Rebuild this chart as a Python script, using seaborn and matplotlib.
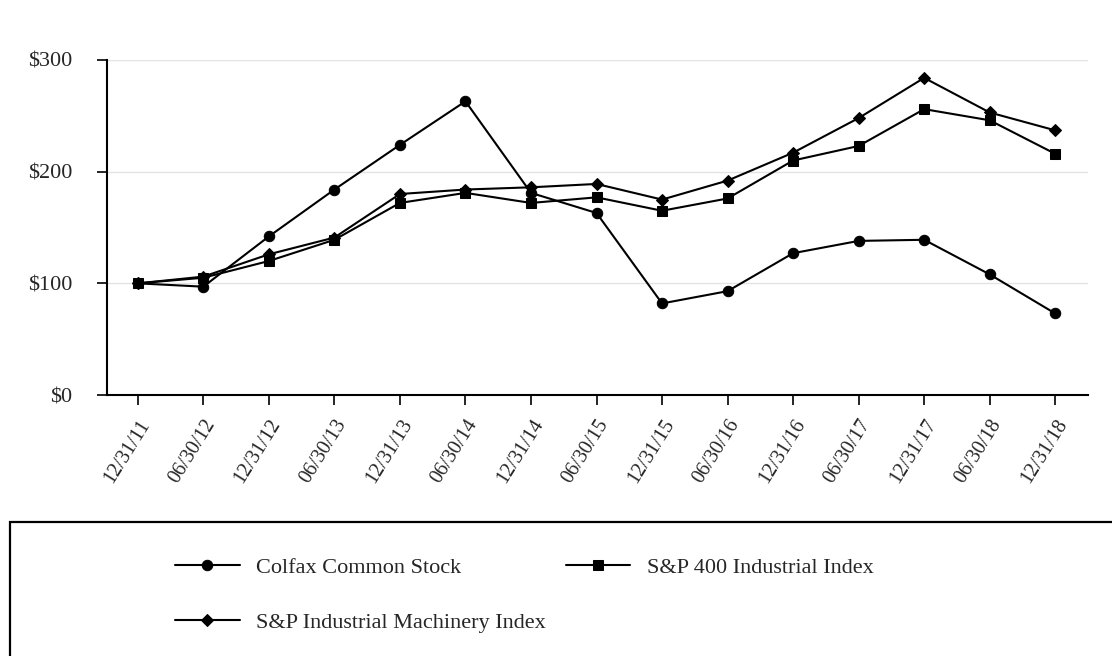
import pandas as pd
import matplotlib.pyplot as plt
import seaborn as sns
from matplotlib.patches import Rectangle

# values
dates = ["12/31/11", "06/30/12", "12/31/12", "06/30/13", "12/31/13", "06/30/14", "12/31/14",
         "06/30/15", "12/31/15", "06/30/16", "12/31/16", "06/30/17", "12/31/17", "06/30/18", "12/31/18"]
colfax = [100, 97, 142, 184, 224, 263, 181, 163, 82, 93, 127, 138, 139, 108, 73]
sp400 = [100, 105, 120, 139, 172, 181, 172, 177, 165, 176, 210, 223, 256, 246, 216]
machinery = [100, 106, 126, 141, 180, 184, 186, 189, 175, 192, 217, 248, 284, 253, 237]

names = ["Colfax Common Stock", "S&P 400 Industrial Index", "S&P Industrial Machinery Index"]

df = pd.DataFrame({"x": list(range(len(dates))) * 3,
                   "value": colfax + sp400 + machinery,
                   "series": [names[0]] * len(dates) + [names[1]] * len(dates) + [names[2]] * len(dates)})

sns.set_style("white")
plt.rcParams['font.family'] = ['Liberation Serif', 'DejaVu Serif']

fig = plt.figure(figsize=(11.12, 6.56), dpi=100)
ax = fig.add_axes([107 / 1112, 1 - 395 / 656, (1088 - 107) / 1112, (395 - 60) / 656])

markers = {names[0]: "o", names[1]: "s", names[2]: "D"}
sizes = {names[0]: 7.5, names[1]: 7.5, names[2]: 6}
handles = {}
for name in names:
    sub = df[df["series"] == name]
    sns.lineplot(data=sub, x="x", y="value", ax=ax, color="black", linewidth=1.5,
                 marker=markers[name], markersize=sizes[name], markeredgecolor="black",
                 label=name, legend=False)
    handles[name] = ax.lines[-1]

ax.set_xlim(-0.47, 14.5)
ax.set_ylim(0, 300)
ax.set_yticks([0, 100, 200, 300])
ax.set_yticklabels(["$0", "$100", "$200", "$300"], fontsize=16)
ax.set_xticks(range(len(dates)))
ax.set_xticklabels(dates, rotation=58, ha="right", rotation_mode="anchor", fontsize=14.5)
ax.set_xlabel("")
ax.set_ylabel("")
ax.yaxis.grid(True, color="#e3e3e3", linewidth=1)
ax.set_axisbelow(True)
for side in ["top", "right"]:
    ax.spines[side].set_visible(False)
for side in ["left", "bottom"]:
    ax.spines[side].set_color("black")
    ax.spines[side].set_linewidth(1.5)
ax.tick_params(axis="both", which="both", length=7, width=1.2, color="black",
               bottom=True, left=True)
ax.tick_params(axis="y", pad=18)
ax.tick_params(axis="x", pad=8)

# legend box running off the bottom/right edge like the reference
fig.patches.append(Rectangle((10 / 1112, -0.02), 1.05, 0.02 + (656 - 522) / 656,
                             transform=fig.transFigure, fill=False,
                             edgecolor="black", linewidth=1.6))
order = [names[0], names[2], names[1]]
fig.legend([handles[n] for n in order], order, loc="upper left",
           bbox_to_anchor=(164 / 1112, 1 - 546 / 656), ncol=2, frameon=False,
           fontsize=16, handlelength=2.9, handletextpad=0.75, columnspacing=0.9,
           labelspacing=1.55, borderpad=0)

fig.savefig("out.png", dpi=100)
